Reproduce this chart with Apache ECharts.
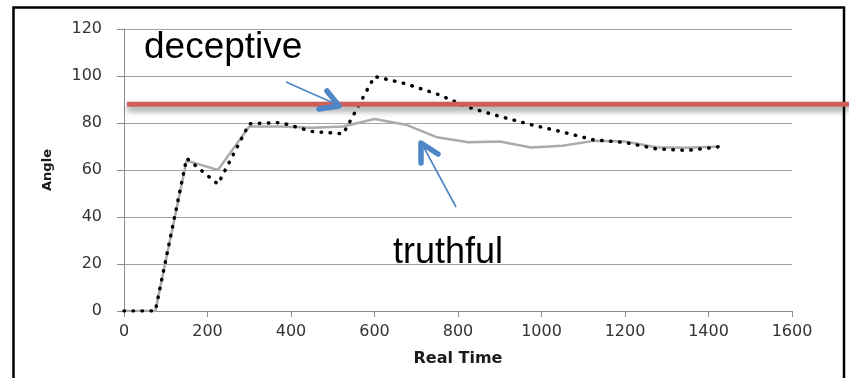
<!DOCTYPE html>
<html>
<head>
<meta charset="utf-8">
<script src="https://cdn.jsdelivr.net/npm/echarts@6/dist/echarts.min.js"></script>
<style>
  html, body { margin: 0; padding: 0; background: #fff; }
  #chart { width: 849px; height: 378px; }
</style>
</head>
<body>
<div id="chart"></div>
<script>
// Sample times (s) and the angle of each response over time
const TIME      = [0, 75, 150, 225, 300, 375, 450, 525, 600, 675, 750, 825, 900, 975, 1050, 1125, 1200, 1275, 1350, 1425];
const TRUTHFUL  = [0, 0, 64, 60, 78.5, 78.5, 78, 78.5, 81.7, 79.3, 73.9, 71.8, 72.1, 69.6, 70.3, 72.4, 72.1, 69.7, 69.5, 70];
const DECEPTIVE = [0, 0, 65, 54, 79.7, 80.2, 76.4, 75.4, 99.8, 96.7, 92.3, 86.7, 82.8, 79.3, 76.2, 72.8, 71.7, 69, 68.3, 69.9];
const THRESHOLD = 88;

const X_TICKS = { min: 0, max: 1600, step: 200 };
const Y_TICKS = { min: 0, max: 120, step: 20 };

const pairs = (xs, ys) => xs.map((x, i) => [x, ys[i]]);
const plain = v => String(v);

const chart = echarts.init(document.getElementById('chart'), null, { renderer: 'canvas' });

const axisText = { fontFamily: 'DejaVu Sans', color: '#333333' };

chart.setOption({
  animation: false,
  backgroundColor: '#ffffff',
  grid: { left: 124, right: 57, top: 29, bottom: 67, containLabel: false },
  xAxis: {
    type: 'value',
    min: X_TICKS.min, max: X_TICKS.max, interval: X_TICKS.step,
    name: 'Real Time',
    nameLocation: 'middle',
    nameGap: 40,
    nameTextStyle: { fontFamily: 'DejaVu Sans', fontWeight: 'bold', fontSize: 16, color: '#1a1a1a' },
    axisLine: { show: true, lineStyle: { color: '#8c8c8c', width: 1 } },
    axisTick: { show: true, inside: false, length: 6, lineStyle: { color: '#8c8c8c' } },
    axisLabel: Object.assign({ fontSize: 16, margin: 13, formatter: plain }, axisText),
    splitLine: { show: false }
  },
  yAxis: {
    type: 'value',
    min: Y_TICKS.min, max: Y_TICKS.max, interval: Y_TICKS.step,
    name: 'Angle',
    nameLocation: 'middle',
    nameRotate: 90,
    nameGap: 70,
    nameTextStyle: { fontFamily: 'DejaVu Sans', fontWeight: 'bold', fontSize: 13, color: '#1a1a1a' },
    axisLine: { show: true, lineStyle: { color: '#8c8c8c', width: 1 } },
    axisTick: { show: true, inside: false, length: 7, lineStyle: { color: '#8c8c8c' } },
    axisLabel: Object.assign({ fontSize: 16, margin: 22, formatter: plain }, axisText),
    splitLine: { show: true, lineStyle: { color: '#a3a3a3', width: 1 } }
  },
  series: [
    {
      name: 'truthful',
      type: 'line',
      data: pairs(TIME, TRUTHFUL),
      showSymbol: false,
      lineStyle: { color: '#ababab', width: 2.5 },
      z: 2
    },
    {
      name: 'deceptive',
      type: 'line',
      data: pairs(TIME, DECEPTIVE),
      showSymbol: false,
      lineStyle: { color: '#000000', width: 3.5, type: [0.5, 8.5], cap: 'round' },
      z: 3
    }
  ]
});

// Threshold band, arrows, annotations and frame
const yThreshold = chart.convertToPixel({ yAxisIndex: 0 }, THRESHOLD);
const blue = '#4f86c6';

chart.setOption({
  graphic: [
    {
      type: 'rect', z: 1, silent: true,
      shape: { x: 13.5, y: 7.5, width: 830.5, height: 400 },
      style: { fill: null, stroke: '#000', lineWidth: 2.5 }
    },
    {
      type: 'line', z: 10, silent: true,
      shape: { x1: 127, y1: yThreshold, x2: 849, y2: yThreshold },
      style: {
        stroke: '#cd5f59', lineWidth: 5,
        shadowColor: 'rgba(0,0,0,0.45)', shadowBlur: 6, shadowOffsetY: 4
      }
    },
    {
      type: 'text', z: 11, silent: true,
      style: { x: 144, y: 48, text: 'deceptive', fontFamily: 'Liberation Sans', fontSize: 37, fill: '#000', verticalAlign: 'middle' }
    },
    {
      type: 'text', z: 11, silent: true,
      style: { x: 393, y: 253, text: 'truthful', fontFamily: 'Liberation Sans', fontSize: 36, fill: '#000', verticalAlign: 'middle' }
    },
    // arrow toward the deceptive crossing
    {
      type: 'line', z: 12, silent: true,
      shape: { x1: 286, y1: 82, x2: 338, y2: 105 },
      style: { stroke: blue, lineWidth: 1.6 }
    },
    {
      type: 'polyline', z: 12, silent: true,
      shape: { points: [[327, 91], [339, 106], [319, 109]] },
      style: { stroke: blue, lineWidth: 5.5, fill: null, lineCap: 'round', lineJoin: 'round' }
    },
    // arrow toward the truthful curve
    {
      type: 'line', z: 12, silent: true,
      shape: { x1: 456, y1: 207, x2: 422, y2: 144 },
      style: { stroke: blue, lineWidth: 1.6 }
    },
    {
      type: 'polyline', z: 12, silent: true,
      shape: { points: [[421, 163], [421, 143], [438, 154]] },
      style: { stroke: blue, lineWidth: 5.5, fill: null, lineCap: 'round', lineJoin: 'round' }
    }
  ]
});
</script>
</body>
</html>
